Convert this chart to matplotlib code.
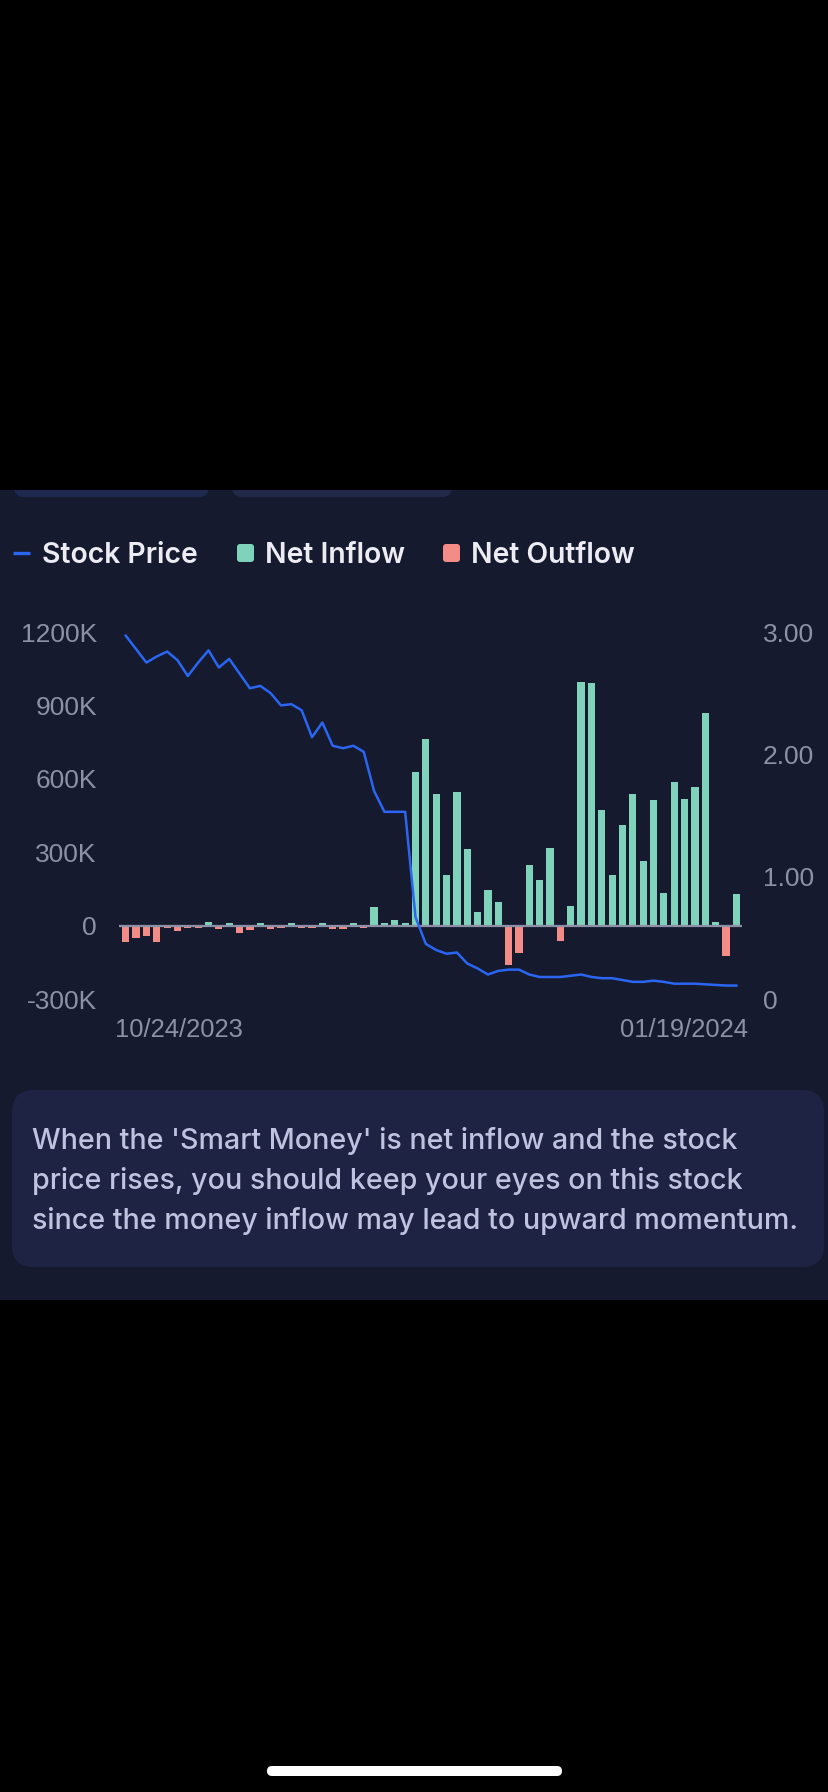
"""Smart-money flow chart: daily net inflow/outflow bars with the stock price line."""
import matplotlib
matplotlib.use("Agg")
import matplotlib.pyplot as plt
import numpy as np
from matplotlib.patches import FancyBboxPatch, Rectangle

# net flow per day, in thousands
flow_k = [-68, -49, -41, -66, -8, -22, -8, -8, 14, -12,
          10, -30, -20, 10, -12, -11, 10, -9, -9, 10,
          -12, -14, 10, -8, 75, 12, 22, 10, 628, 762,
          537, 205, 548, 315, 57, 147, 97, -162, -112, 249,
          188, 318, -63, 80, 995, 993, 473, 205, 411, 536,
          264, 514, 134, 585, 518, 567, 867, 14, -126, 129]
# stock price per day
price = [2.97, 2.86, 2.75, 2.80, 2.84, 2.77, 2.64, 2.75, 2.85, 2.71,
         2.78, 2.66, 2.54, 2.56, 2.50, 2.40, 2.41, 2.36, 2.14, 2.26,
         2.07, 2.05, 2.07, 2.02, 1.70, 1.53, 1.53, 1.53, 0.67, 0.45,
         0.40, 0.37, 0.38, 0.29, 0.25, 0.20, 0.23, 0.24, 0.24, 0.20,
         0.18, 0.18, 0.18, 0.19, 0.20, 0.18, 0.17, 0.17, 0.155, 0.14,
         0.14, 0.15, 0.14, 0.125, 0.125, 0.125, 0.12, 0.115, 0.11, 0.11]

left_ticks = [-300, 0, 300, 600, 900, 1200]
left_labels = ["-300K", "0", "300K", "600K", "900K", "1200K"]
right_ticks = [0, 1, 2, 3]
right_labels = ["0", "1.00", "2.00", "3.00"]
start_date = "10/24/2023"
end_date = "01/19/2024"
legend_labels = ["Stock Price", "Net Inflow", "Net Outflow"]
note_lines = ["When the 'Smart Money' is net inflow and the stock",
              "price rises, you should keep your eyes on this stock",
              "since the money inflow may lead to upward momentum."]

BG = "#151a2f"
CARD = "#1e2343"
GREEN = "#7fd3ba"
RED = "#f38c87"
BLUE = "#2a66f2"
AXIS_GREY = "#8c91a7"
TICK_FONT = "Liberation Sans"
UI_FONT = "Inter"

W, H = 828, 1792
fig = plt.figure(figsize=(W / 100 + 1e-4, H / 100 + 1e-4), dpi=100, facecolor="black")

# pixel-space backdrop: panel, card, legend, home indicator
bg = fig.add_axes([0, 0, 1, 1])
bg.set_xlim(0, W)
bg.set_ylim(H, 0)
bg.axis("off")
bg.add_patch(Rectangle((0, 490), W, 810, color=BG, lw=0))
bg.add_patch(FancyBboxPatch((14, 470), 195, 27, boxstyle="round,pad=0,rounding_size=10",
                            fc="#1f2950", ec="none"))
bg.add_patch(FancyBboxPatch((232, 470), 220, 27, boxstyle="round,pad=0,rounding_size=10",
                            fc="#222847", ec="none"))
bg.add_patch(Rectangle((0, 0), W, 490, color="black", lw=0))
bg.add_patch(FancyBboxPatch((12, 1090), 812, 177, boxstyle="round,pad=0,rounding_size=22",
                            fc=CARD, ec="none"))
bg.add_patch(FancyBboxPatch((267, 1766), 295, 10, boxstyle="round,pad=0,rounding_size=5",
                            fc="white", ec="none"))

# legend
bg.plot([13, 30], [553, 553], color=BLUE, lw=2.4, solid_capstyle="butt")
bg.add_patch(FancyBboxPatch((237, 544), 17, 18, boxstyle="round,pad=0,rounding_size=3",
                            fc=GREEN, ec="none"))
bg.add_patch(FancyBboxPatch((443, 544), 17, 18, boxstyle="round,pad=0,rounding_size=3",
                            fc=RED, ec="none"))
for x0, lab in zip([42, 265, 471], legend_labels):
    bg.text(x0, 562.5, lab, color="#ececf2", fontsize=20.4, family=UI_FONT,
            fontweight="semibold", ha="left", va="baseline")

# explanatory note
for i, line in enumerate(note_lines):
    bg.text(32, 1149 + 40 * i, line, color="#bfc3df", fontsize=20.6, family=UI_FONT,
            fontweight="medium", ha="left", va="baseline")

# chart
ax = fig.add_axes([119 / W, 1 - 999 / H, 623 / W, 367 / H])
ax.set_facecolor("none")
x = np.arange(len(flow_k))
flows = np.array(flow_k)
ax.bar(x, flows, width=0.7, color=np.where(flows >= 0, GREEN, RED), zorder=2)
ax.axhline(0, color=AXIS_GREY, lw=1.6, zorder=3)
ax.set_xlim(-0.65, len(flow_k) - 0.45)
ax.set_ylim(-300, 1200)
ax.set_xticks([])
ax.set_yticks(left_ticks)
ax.set_yticklabels(left_labels)
ax.tick_params(axis="y", length=0, pad=16, labelsize=19, labelcolor=AXIS_GREY)
for lab in ax.get_yticklabels():
    lab.set_family(TICK_FONT)
for s in ax.spines.values():
    s.set_visible(False)

ax2 = ax.twinx()
ax2.plot(x, price, color=BLUE, lw=1.8, zorder=4)
ax2.set_ylim(0, 3)
ax2.set_yticks(right_ticks)
ax2.set_yticklabels(right_labels)
ax2.tick_params(axis="y", length=0, pad=15, labelsize=19, labelcolor=AXIS_GREY)
for lab in ax2.get_yticklabels():
    lab.set_family(TICK_FONT)
for s in ax2.spines.values():
    s.set_visible(False)

ax.annotate(start_date, xy=(0, 0), xycoords="axes fraction", xytext=(-3, -22),
            textcoords="offset points", ha="left", va="center", fontsize=18.4,
            color=AXIS_GREY, family=TICK_FONT)
ax.annotate(end_date, xy=(1, 0), xycoords="axes fraction", xytext=(4.5, -22),
            textcoords="offset points", ha="right", va="center", fontsize=18.4,
            color=AXIS_GREY, family=TICK_FONT)

fig.savefig("out.png", dpi=100, facecolor="black")
